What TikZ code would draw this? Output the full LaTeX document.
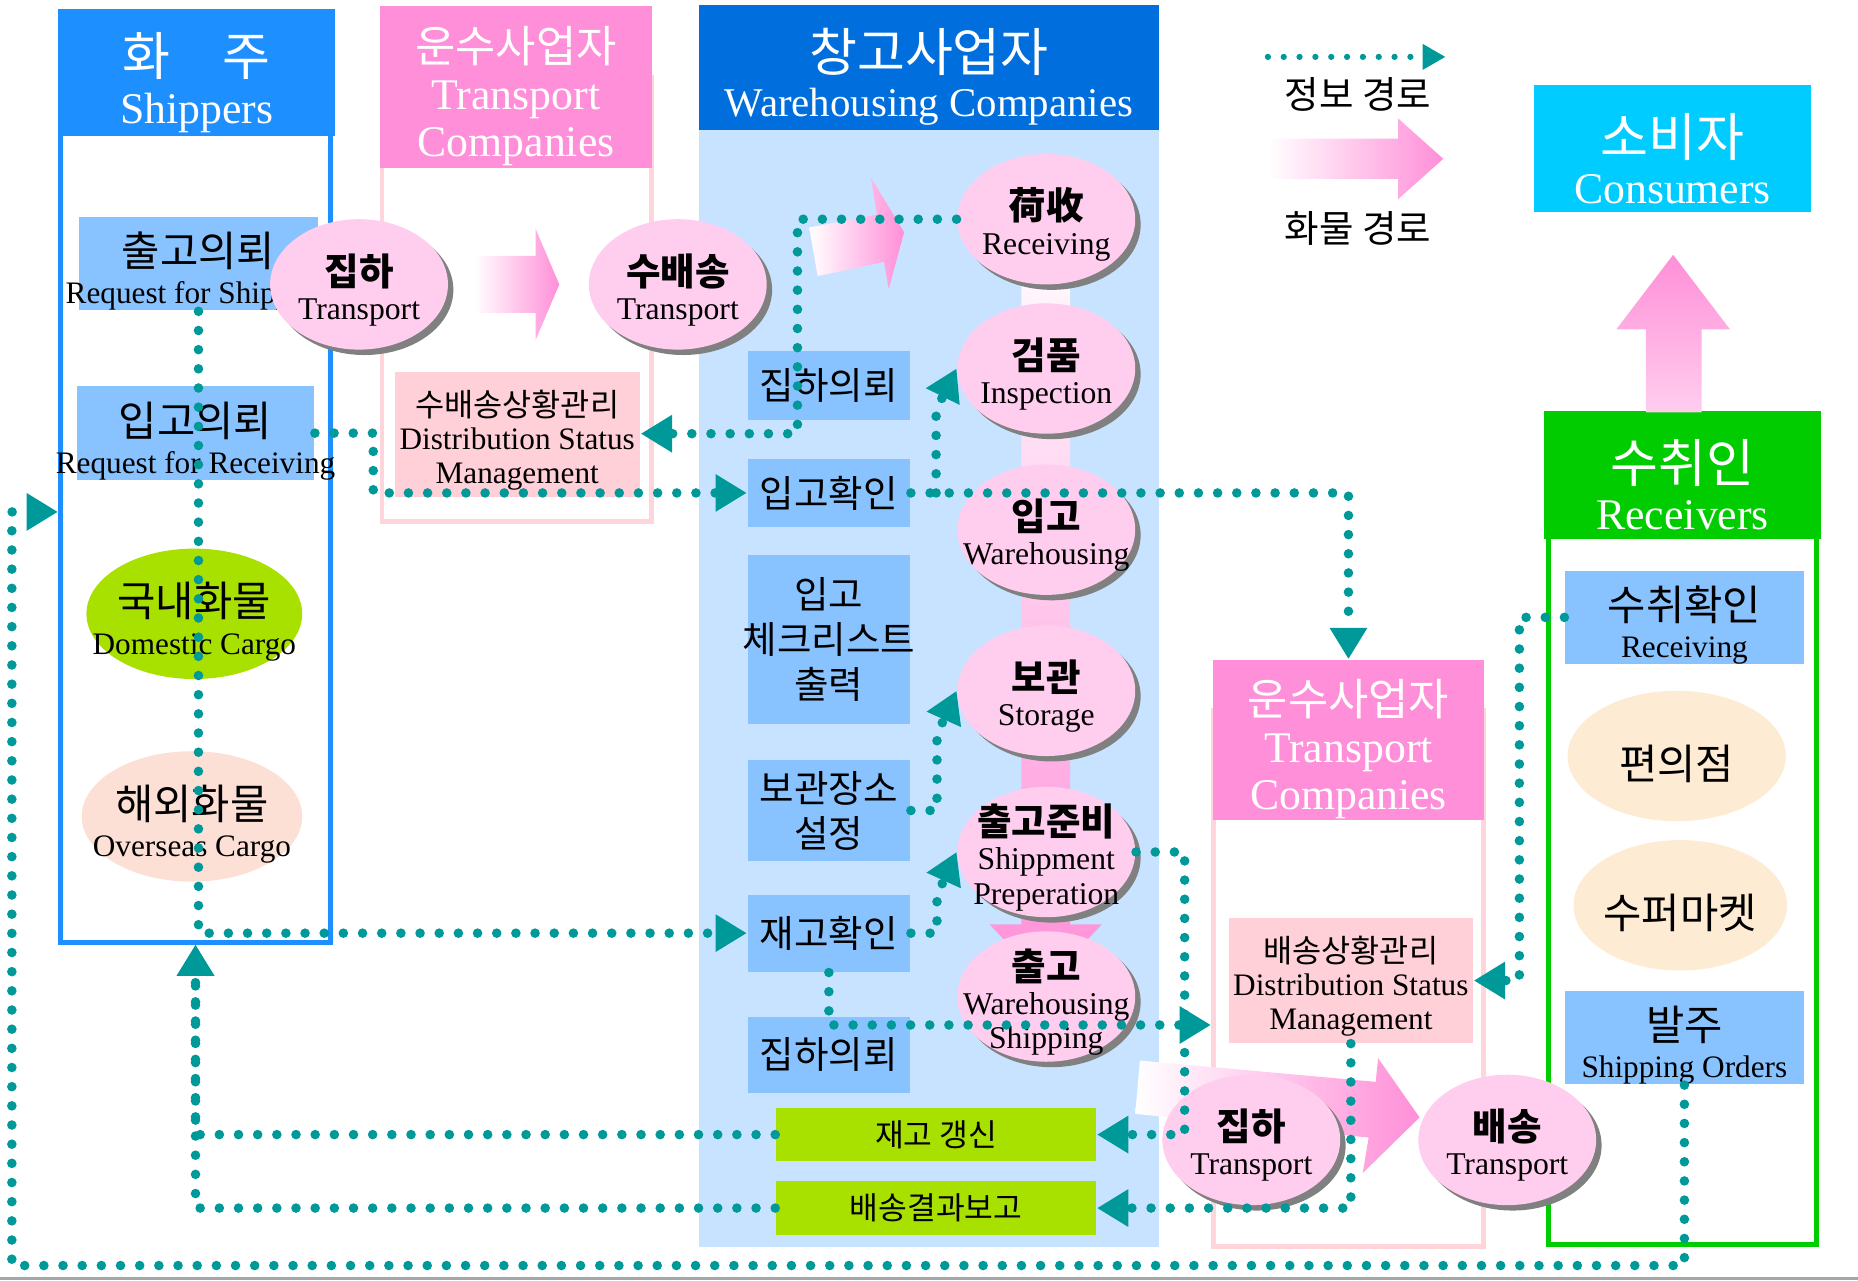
\documentclass[tikz,border=0pt]{standalone}
\usepackage{fontspec}
\setmainfont{Liberation Serif}
\newfontfamily\krfont{Noto Sans CJK KR}
\usetikzlibrary{arrows.meta}
\usetikzlibrary{calc}
\usetikzlibrary{shapes.geometric}
\usetikzlibrary{shadows}

\definecolor{shipblue}{HTML}{1E8FFF}
\definecolor{whblue}{HTML}{006FDD}
\definecolor{whback}{HTML}{C8E3FF}
\definecolor{boxblue}{HTML}{88C3FF}
\definecolor{tppink}{HTML}{FF8FD8}
\definecolor{tpline}{HTML}{FFD5DC}
\definecolor{statpink}{HTML}{FFD0D8}
\definecolor{bubpink}{HTML}{FFCDEE}
\definecolor{limegrn}{HTML}{A8E000}
\definecolor{peach}{HTML}{FCE0D5}
\definecolor{shoptan}{HTML}{FDEBD3}
\definecolor{consblue}{HTML}{00CCFF}
\definecolor{rcvgreen}{HTML}{00CC00}
\definecolor{infoteal}{HTML}{009999}

\newcommand{\krbig}{\krfont\fontsize{12.5}{14}\selectfont\rule{0pt}{15pt}}
\newcommand{\krmid}{\krfont\fontsize{10.5}{12}\selectfont\rule{0pt}{13pt}}
\newcommand{\krbox}{\krfont\fontsize{10}{12}\selectfont\rule{0pt}{12pt}}
\newcommand{\krbold}{\krfont\bfseries\fontsize{9}{10}\selectfont\rule{0pt}{10.2pt}}
\newcommand{\krsmall}{\krfont\fontsize{7.6}{9}\selectfont\rule{0pt}{9pt}}
\newcommand{\overhang}[1]{\makebox[0pt]{#1}}

\tikzset{
  header/.style={inner sep=0pt, text=white, align=center, font=\fontsize{10.5}{11.3}\selectfont},
  column/.style={draw, line width=1.15pt, inner sep=0pt},
  lightbox/.style={fill=boxblue, inner sep=0pt, align=center, font=\fontsize{7.5}{8.8}\selectfont},
  whbox/.style={lightbox, minimum width=1.37cm, font=\krfont\fontsize{9}{10.8}\selectfont},
  statbox/.style={fill=statpink, inner sep=0pt, align=center, font=\fontsize{7.5}{8}\selectfont},
  greenbox/.style={fill=limegrn, inner sep=0pt, minimum width=2.7cm, minimum height=0.45cm, font=\krfont\fontsize{7.5}{9}\selectfont},
  bubble/.style={ellipse, fill=bubpink, inner xsep=-6pt, inner ysep=-4pt, minimum width=1.5cm, minimum height=1.1cm,
    align=center, font=\fontsize{7.6}{8.2}\selectfont,
    drop shadow={shadow xshift=1.3pt, shadow yshift=-1.3pt, fill=gray, opacity=1}},
  cargo/.style={ellipse, inner xsep=-8pt, inner ysep=-4pt, minimum width=1.84cm, minimum height=1.1cm, align=center, font=\fontsize{7.5}{9}\selectfont},
  legendtext/.style={font=\krfont\fontsize{9}{10}\selectfont},
  info/.style={draw=infoteal, line width=2.3pt, line cap=round, dash pattern=on 0pt off 4.6pt},
  infoarrow/.style={info, -{Triangle[length=7.5pt, width=8.5pt]}},
  legendarrow/.style={draw=infoteal, line width=1.5pt, line cap=round, dash pattern=on 0pt off 3.8pt, -{Triangle[length=5.5pt, width=5.8pt]}},
  cargoflow/.style={left color=white, right color=tppink}
}

\begin{document}
\begin{tikzpicture}[x=0.01cm, y=-0.01cm]
  \useasboundingbox (0,0) rectangle (1568,1081);

  \node[fill=whback, inner sep=0pt, minimum width=3.88cm, minimum height=9.44cm] (whcol) at (784,580) {};
  \node[column, draw=shipblue, minimum width=2.28cm, minimum height=6.95cm] (shipcol) at (165,447.5) {};
  \node[column, draw=tpline, minimum width=2.27cm, minimum height=3.75cm] (tpcol) at (436,252.5) {};
  \node[column, draw=tpline, minimum width=2.28cm, minimum height=4.52cm] (tpcol2) at (1138,826) {};
  \node[column, draw=rcvgreen, minimum width=2.26cm, minimum height=6.1cm] (rcvcol) at (1420,745) {};

  \node[header, fill=shipblue, minimum width=2.34cm, minimum height=1.07cm] (shiphd) at (166,61.5) {{\krbig 화　주}\\Shippers};
  \node[header, fill=tppink, minimum width=2.29cm, minimum height=1.37cm] (tphd) at (435.5,73.5) {{\krmid 운수사업자}\\Transport\\Companies};
  \node[header, fill=whblue, minimum width=3.88cm, minimum height=1.05cm, font=\fontsize{9.8}{10.8}\selectfont] (whhd) at (784,57) {{\krbig 창고사업자}\\Warehousing Companies};
  \node[header, fill=consblue, minimum width=2.33cm, minimum height=1.07cm] (cons) at (1411.5,125.5) {{\krbig 소비자}\\Consumers};
  \node[header, fill=rcvgreen, minimum width=2.34cm, minimum height=1.08cm] (rcvhd) at (1420,401) {{\krbig 수취인}\\Receivers};
  \node[header, fill=tppink, minimum width=2.28cm, minimum height=1.35cm] (tphd2) at (1138,624.5) {{\krmid 운수사업자}\\Transport\\Companies};

  \shade[cargoflow] (400,216) -- (452,216) -- (452,193) -- (472,240) -- (452,287) -- (452,264) -- (400,264) -- cycle;
  \shade[cargoflow] (683,192) -- (740,181) -- (735,150) -- (763,196) -- (750,244) -- (746,221) -- (690,233) -- cycle;
  \shade[top color=white, bottom color=tppink] (862,185) -- (903,185) -- (903,780) -- (930,780) -- (882.5,830) -- (835,780) -- (862,780) -- cycle;
  \shade[cargoflow] (962,895) -- (1161,913) -- (1163,893) -- (1198,943) -- (1150,990) -- (1155,960) -- (958,940) -- cycle;
  \shade[cargoflow] (1070,117) -- (1180,117) -- (1180,100) -- (1218,134) -- (1180,168) -- (1180,151) -- (1070,151) -- cycle;
  \shade[top color=tppink, bottom color=bubpink] (1389,348) -- (1389,278) -- (1364,278) -- (1412,215) -- (1460,278) -- (1436,278) -- (1436,348) -- cycle;

  \node[lightbox, minimum width=2.01cm, minimum height=0.79cm] (reqship) at (167.5,222.5) {{\krbox 출고의뢰}\\\overhang{Request for Shipping}};
  \node[lightbox, minimum width=2.0cm, minimum height=0.79cm] (reqrecv) at (165,365.5) {{\krbox 입고의뢰}\\\overhang{Request for Receiving}};
  \node[cargo, fill=limegrn, minimum width=1.82cm] (domcargo) at (164,518) {{\krbox 국내화물}\\Domestic Cargo};
  \node[cargo, fill=peach, minimum width=1.86cm] (ovscargo) at (162,689) {{\krbox 해외화물}\\Overseas Cargo};

  \node[bubble] (pickup) at (303,240) {{\krbold 집하}\\Transport};
  \node[bubble] (dispatch) at (572,240) {{\krbold 수배송}\\Transport};
  \node[statbox, minimum width=2.07cm, minimum height=1.05cm] (dstat) at (436.5,366.5) {{\krsmall 수배송상황관리}\\Distribution Status\\Management};

  \node[bubble] (rcv) at (883,185) {{\krbold 荷收}\\Receiving};
  \node[bubble] (insp) at (883,311) {{\krbold 검품}\\Inspection};
  \node[bubble] (whin) at (883,447) {{\krbold 입고}\\Warehousing};
  \node[bubble] (store) at (883,583) {{\krbold 보관}\\Storage};
  \node[bubble] (prep) at (883,719) {{\krbold 출고준비}\\Shippment\\Preperation};
  \node[bubble] (whout) at (883,841) {{\krbold 출고}\\Warehousing\\Shipping};

  \node[whbox, minimum height=0.58cm] (pickreq) at (699.5,325) {집하의뢰};
  \node[whbox, minimum height=0.58cm] (rcvchk) at (699.5,416) {입고확인};
  \node[whbox, minimum height=1.43cm] (chklist) at (699.5,539.5) {입고\\\overhang{체크리스트}\\출력};
  \node[whbox, minimum height=0.86cm] (storeset) at (699.5,684) {보관장소\\설정};
  \node[whbox, minimum height=0.65cm] (stockchk) at (699.5,787.5) {재고확인};
  \node[whbox, minimum height=0.64cm] (pickreq2) at (699.5,890) {집하의뢰};
  \node[greenbox] (stockupd) at (790,957.5) {재고 갱신};
  \node[greenbox] (delrep) at (790,1019.5) {배송결과보고};

  \node[lightbox, minimum width=2.01cm, minimum height=0.78cm] (rcvconf) at (1421.5,521) {{\krbox 수취확인}\\Receiving};
  \node[cargo, fill=shoptan] (conv) at (1415,638) {\krbox 편의점};
  \node[cargo, fill=shoptan, minimum width=1.8cm] (market) at (1418,764) {\krbox 수퍼마켓};
  \node[lightbox, minimum width=2.01cm, minimum height=0.79cm] (order) at (1421.5,875.5) {{\krbox 발주}\\Shipping Orders};

  \node[statbox, minimum width=2.06cm, minimum height=1.05cm] (dstat2) at (1140,827.5) {{\krsmall 배송상황관리}\\Distribution Status\\Management};
  \node[bubble] (pickup2) at (1056,962) {{\krbold 집하}\\Transport};
  \node[bubble] (deliver) at (1272,962) {{\krbold 배송}\\Transport};

  \coordinate (lgstart) at (1070,48);
  \coordinate (lgend) at (1220,48);
  \node[legendtext] (lginfo) at (1146,80) {정보 경로};
  \node[legendtext] (lgcargo) at (1146,193) {화물 경로};

  \coordinate (recvturn) at (315,365.5);
  \coordinate (rcvturn) at (673,366);
  \coordinate (inspturn) at (790,416);
  \coordinate (outturn) at (700,865);
  \coordinate (lowleft) at (10,1068);
  \coordinate (shipin) at (30,432);

  \draw[legendarrow] (lgstart) -- (lgend);
  \draw[infoarrow] (reqship.south) |- (stockchk.west);
  \draw[infoarrow] (reqrecv.east) -- (recvturn) |- (rcvchk.west);
  \draw[infoarrow] (rcv.west) -| (rcvturn) -- (rcvturn -| dstat.east);
  \draw[infoarrow] (rcvchk.east) -| (tphd2.north);
  \draw[infoarrow] (inspturn) -- ++(0,-70) -- (insp.west);
  \draw[infoarrow] (storeset.east) -- ++(22,0) -- ++(0,-64) -- (store.west);
  \draw[infoarrow] (stockchk.east) -- ++(22,0) -- ++(0,-32) -- (prep.west);
  \draw[infoarrow] (stockchk.south) |- (outturn -| tpcol2.west);
  \draw[infoarrow] (prep.east) -- ++(41,0) |- (stockupd.east);
  \draw[infoarrow] (dstat2.south) |- (delrep.east);
  \draw[infoarrow] (stockupd.west) -| (shipcol.south);
  \draw[infoarrow] (delrep.west) -| (shipcol.south);
  \draw[infoarrow] (rcvconf.west) -- ++(-38,0) |- (dstat2.east);
  \draw[infoarrow] (order.south) |- (lowleft) |- (shipin -| shipcol.west);

  \draw[gray!70, line width=0.6pt] (0,1079) -- (1568,1079);
\end{tikzpicture}
\end{document}
